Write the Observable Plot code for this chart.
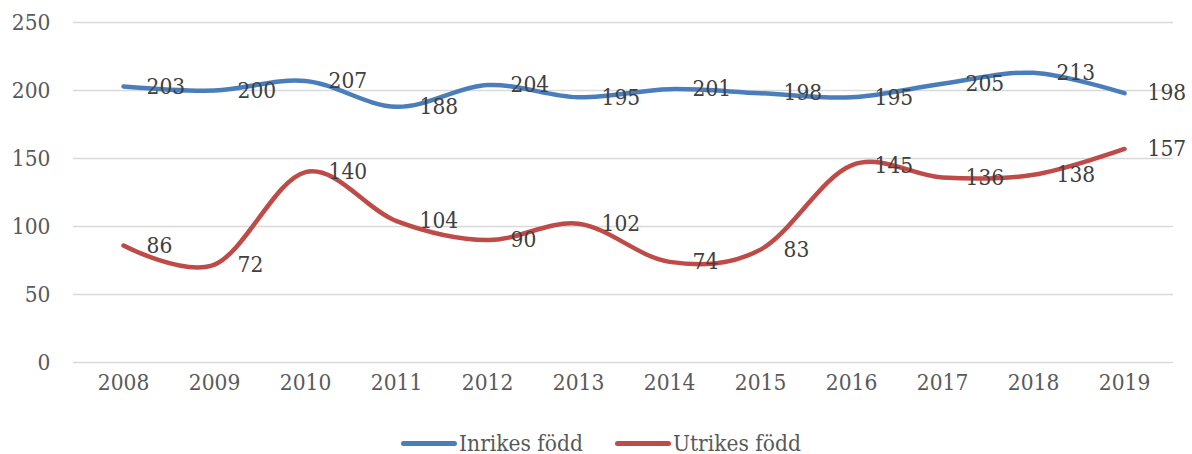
<!DOCTYPE html>
<html>
<head>
<meta charset="utf-8">
<script src="https://cdn.jsdelivr.net/npm/d3@7"></script>
<script src="https://cdn.jsdelivr.net/npm/@observablehq/plot@0.6"></script>
<style>
  body { margin: 0; background: #fff; width: 1192px; height: 454px; overflow: hidden; position: relative; }
  #legend { position: absolute; left: 5px; top: 430px; width: 1192px; display: flex; justify-content: center; align-items: center;
    font-family: "DejaVu Serif Condensed", "DejaVu Serif", serif; font-size: 22.5px; color: #595959; }
  .item { display: flex; align-items: center; margin: 0 16px; }
  .swatch { width: 56px; height: 5px; border-radius: 3px; margin-right: 2px; }
</style>
</head>
<body>
<div id="chart"></div>
<div id="legend"></div>
<script>
const years = ["2008","2009","2010","2011","2012","2013","2014","2015","2016","2017","2018","2019"];
const inrikes = [203,200,207,188,204,195,201,198,195,205,213,198];
const utrikes = [86,72,140,104,90,102,74,83,145,136,138,157];
const seriesNames = ["Inrikes född", "Utrikes född"];
const seriesColors = ["#4a7ebb", "#be4b48"];
const yTicks = [0,50,100,150,200,250];

const data = [];
years.forEach((y, i) => {
  data.push({year: y, value: inrikes[i], series: seriesNames[0]});
  data.push({year: y, value: utrikes[i], series: seriesNames[1]});
});

const font = '"DejaVu Serif Condensed", "DejaVu Serif", serif';
const fs = 22.5;

const chart = Plot.plot({
  width: 1192,
  height: 410,
  marginLeft: 73,
  marginRight: 19,
  marginTop: 22,
  marginBottom: 48,
  style: {fontFamily: font, fontSize: fs + "px", color: "#595959", background: "#fff"},
  x: {type: "point", domain: years, padding: 0.5, label: null},
  y: {domain: [0, 250], label: null},
  color: {domain: seriesNames, range: seriesColors},
  marks: [
    Plot.gridY(yTicks, {stroke: "#d9d9d9", strokeOpacity: 1, strokeWidth: 1.5}),
    Plot.axisY(yTicks, {tickSize: 0, tickPadding: 23, fill: "#595959", fontSize: fs}),
    Plot.axisX(years, {tickSize: 0, tickPadding: 12, fill: "#595959", fontSize: fs}),
    Plot.line(data, {x: "year", y: "value", z: "series", stroke: "series", strokeWidth: 4.5, curve: "cardinal", strokeLinecap: "round", strokeLinejoin: "round"}),
    Plot.text(data, {x: "year", y: "value", text: d => String(d.value), textAnchor: "start", dx: 23, fill: "#404040", fontSize: fs})
  ]
});
document.getElementById("chart").appendChild(chart);

const legend = document.getElementById("legend");
seriesNames.forEach((name, i) => {
  const item = document.createElement("div");
  item.className = "item";
  const sw = document.createElement("div");
  sw.className = "swatch";
  sw.style.background = seriesColors[i];
  const t = document.createElement("span");
  t.textContent = name;
  item.appendChild(sw);
  item.appendChild(t);
  legend.appendChild(item);
});
</script>
</body>
</html>
